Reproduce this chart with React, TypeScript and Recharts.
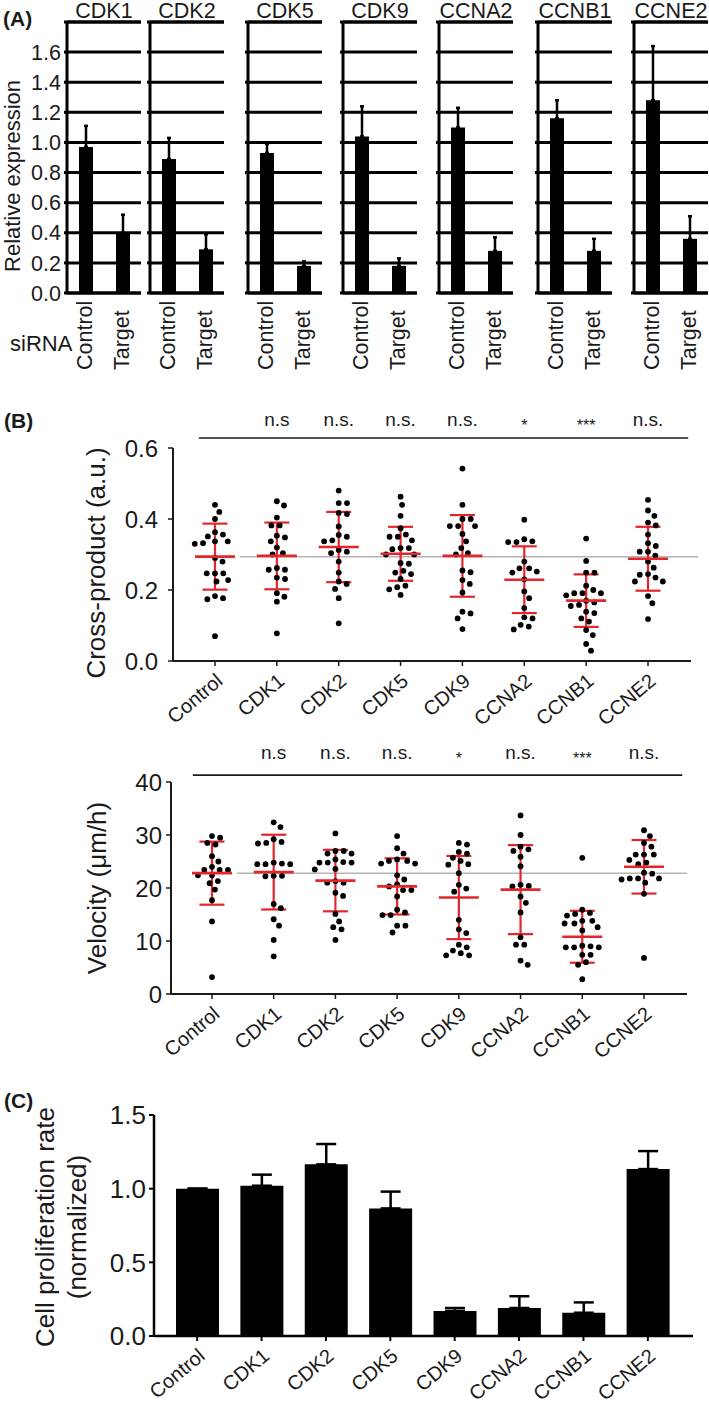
import React from 'react';
import {
  BarChart, Bar, XAxis, YAxis, CartesianGrid, ErrorBar, ComposedChart, Scatter,
  ReferenceLine, ReferenceDot,
} from 'recharts';

const FONT = '"Liberation Sans", Arial, Helvetica, sans-serif';
const RED = '#e3262b';
const INK = '#1a1a1a';

// ---------------- Panel A data ----------------
const genesA = ['CDK1', 'CDK2', 'CDK5', 'CDK9', 'CCNA2', 'CCNB1', 'CCNE2'];
const groupsA = ['Control', 'Target'];
const controlExpr = [0.97, 0.89, 0.93, 1.04, 1.10, 1.16, 1.28];
const controlErr = [0.14, 0.14, 0.06, 0.20, 0.13, 0.12, 0.36];
const targetExpr = [0.40, 0.29, 0.18, 0.18, 0.28, 0.28, 0.36];
const targetErr = [0.12, 0.10, 0.03, 0.05, 0.09, 0.08, 0.15];
const ticksA = [0, 0.2, 0.4, 0.6, 0.8, 1.0, 1.2, 1.4, 1.6, 1.8];

// ---------------- Panel B data ----------------
const categoriesB = ['Control', 'CDK1', 'CDK2', 'CDK5', 'CDK9', 'CCNA2', 'CCNB1', 'CCNE2'];
const sigCross = ['', 'n.s', 'n.s.', 'n.s.', 'n.s.', '*', '***', 'n.s.'];
const sigVelocity = ['', 'n.s', 'n.s.', 'n.s.', '*', 'n.s.', '***', 'n.s.'];

const crossControl = [0.44, 0.42, 0.40, 0.363, 0.356, 0.351, 0.337, 0.337, 0.332, 0.33, 0.29, 0.28, 0.247, 0.247, 0.247, 0.228, 0.224, 0.183, 0.177, 0.174, 0.07];
const crossCDK1 = [0.45, 0.438, 0.404, 0.382, 0.382, 0.353, 0.348, 0.337, 0.32, 0.304, 0.30, 0.262, 0.257, 0.257, 0.235, 0.231, 0.191, 0.181, 0.167, 0.078];
const crossCDK2 = [0.48, 0.445, 0.445, 0.417, 0.414, 0.379, 0.355, 0.35, 0.34, 0.337, 0.313, 0.308, 0.304, 0.28, 0.249, 0.224, 0.217, 0.203, 0.177, 0.106];
const crossCDK5 = [0.463, 0.44, 0.409, 0.374, 0.356, 0.35, 0.34, 0.35, 0.318, 0.318, 0.315, 0.30, 0.30, 0.276, 0.274, 0.249, 0.245, 0.254, 0.231, 0.208, 0.202, 0.212, 0.186];
const crossCDK9 = [0.542, 0.44, 0.40, 0.40, 0.38, 0.38, 0.38, 0.358, 0.337, 0.318, 0.304, 0.30, 0.25, 0.255, 0.228, 0.217, 0.193, 0.134, 0.139, 0.12, 0.09];
const crossCCNA2 = [0.398, 0.343, 0.337, 0.335, 0.335, 0.28, 0.261, 0.261, 0.252, 0.249, 0.23, 0.196, 0.177, 0.149, 0.123, 0.12, 0.102, 0.097, 0.089];
const crossCCNB1 = [0.345, 0.282, 0.249, 0.249, 0.212, 0.2, 0.191, 0.191, 0.191, 0.185, 0.17, 0.165, 0.158, 0.155, 0.139, 0.135, 0.12, 0.111, 0.087, 0.073, 0.048, 0.029];
const crossCCNE2 = [0.454, 0.424, 0.409, 0.39, 0.382, 0.356, 0.332, 0.324, 0.308, 0.308, 0.297, 0.28, 0.263, 0.245, 0.243, 0.235, 0.224, 0.224, 0.183, 0.163, 0.118];
const crossMean = [0.294, 0.296, 0.321, 0.302, 0.296, 0.229, 0.170, 0.288];
const crossSd = [0.093, 0.094, 0.099, 0.076, 0.115, 0.094, 0.074, 0.090];
const crossTicks = [0, 0.2, 0.4, 0.6];

const velControl = [29.8, 29.5, 28.5, 28.2, 26.0, 25.0, 24.0, 23.4, 23.4, 23.4, 22.4, 22.4, 21.3, 20.9, 19.7, 17.7, 13.7, 3.2];
const velCDK1 = [32.4, 31.5, 29.2, 28.5, 28.4, 28.7, 24.5, 24.5, 24.5, 24.8, 24.6, 22.3, 22.2, 22.3, 17.0, 16.2, 14.1, 12.9, 10.2, 7.1];
const velCDK2 = [30.3, 27.0, 27.0, 26.5, 26.5, 24.8, 24.8, 25.4, 24.9, 24.8, 23.5, 23.6, 21.0, 21.0, 21.3, 19.1, 18.5, 15.1, 12.6, 12.2, 13.7, 10.2];
const velCDK5 = [29.8, 27.5, 26.5, 25.4, 25.1, 24.6, 24.6, 25.1, 22.4, 21.6, 20.7, 20.3, 19.6, 19.6, 18.4, 15.4, 14.9, 14.9, 15.9, 12.9, 12.9, 11.6];
const velCDK9 = [28.2, 28.5, 26.8, 26.5, 25.1, 25.7, 24.5, 24.4, 22.8, 20.6, 19.9, 19.3, 14.0, 12.2, 11.5, 9.3, 8.8, 7.7, 7.3, 7.3, 8.2];
const velCCNA2 = [33.7, 30.0, 27.8, 27.3, 27.0, 25.9, 24.1, 20.4, 20.3, 20.6, 18.4, 17.2, 15.4, 10.7, 9.3, 9.3, 6.3, 5.5];
const velCCNB1 = [25.7, 15.9, 15.1, 14.8, 15.3, 13.8, 12.6, 13.3, 13.8, 13.3, 12.0, 8.8, 8.8, 9.0, 9.1, 8.8, 7.4, 7.4, 5.5, 6.0, 2.8];
const velCCNE2 = [30.9, 29.8, 28.5, 27.8, 26.3, 26.3, 26.3, 25.3, 24.5, 24.8, 22.9, 22.7, 21.8, 21.6, 21.0, 21.8, 21.8, 18.9, 6.8];
const velMean = [22.8, 23.0, 21.4, 20.3, 18.2, 19.7, 10.8, 24.0];
const velSd = [5.95, 7.05, 5.8, 5.3, 7.85, 8.4, 4.9, 5.05];
const velTicks = [0, 10, 20, 30, 40];

// ---------------- Panel C data ----------------
const prolif = [1.0, 1.02, 1.165, 0.866, 0.17, 0.19, 0.158, 1.133];
const prolifErr = [0, 0.075, 0.138, 0.114, 0.02, 0.08, 0.07, 0.122];
const prolifTicks = [0, 0.5, 1.0, 1.5];

// ---------------- helpers ----------------
function swarm(values: number[], center: number, pxPerUnit: number, pxPerCat: number, diam: number) {
  const placed: { y: number; x: number }[] = [];
  const order = values.map((_, i) => i).sort((a, b) => values[b] - values[a]);
  const out: { x: number; y: number }[] = new Array(values.length);
  for (const i of order) {
    const yp = values[i] * pxPerUnit;
    const cands = [0];
    for (const p of placed) {
      const dy = Math.abs(p.y - yp);
      if (dy < diam) {
        const dx = Math.sqrt(diam * diam - dy * dy);
        cands.push(p.x + dx, p.x - dx);
      }
    }
    cands.sort((a, b) => Math.abs(a) - Math.abs(b));
    let chosen = 0;
    for (const c of cands) {
      let ok = true;
      for (const p of placed) {
        const dy = p.y - yp;
        const dx = p.x - c;
        if (dx * dx + dy * dy < diam * diam - 1e-6) { ok = false; break; }
      }
      if (ok) { chosen = c; break; }
    }
    placed.push({ y: yp, x: chosen });
    out[i] = { x: center + chosen / pxPerCat, y: values[i] };
  }
  return out;
}

const ATick = (props: any) => {
  const { x, payload } = props;
  const bx = x + 6;
  const by = 370;
  return (
    <text x={bx} y={by} transform={`rotate(-90, ${bx}, ${by})`} textAnchor="start"
      fontSize={21.5} fill={INK} fontFamily={FONT}>{payload.value}</text>
  );
};

const EmptyTick = () => <g />;

const makeRotTick = (names: string[] | null, fontSize: number) => (props: any) => {
  const { x, y, payload } = props;
  const label = names ? names[Math.round(payload.value)] : payload.value;
  const ax = x + 9;
  const ay = y + 17;
  return (
    <text x={ax} y={ay} transform={`rotate(-40, ${ax}, ${ay})`} textAnchor="end"
      fontSize={fontSize} fill={INK} fontFamily={FONT}>{label}</text>
  );
};

const Dot = (props: any) => <circle cx={props.cx} cy={props.cy} r={2.9} fill="#000" />;
const MeanLine = (props: any) => (
  <line x1={props.cx - 20} x2={props.cx + 20} y1={props.cy} y2={props.cy} stroke={RED} strokeWidth={2.6} />
);

// ---------------- Panel A ----------------
const A_AXIS_X = [67, 150, 248, 343, 439, 538, 634];
const A_PANEL_W = 74;

function PanelA() {
  return (
    <>
      {genesA.map((g, i) => {
        const yw = i === 0 ? 62 : 8;
        const left = A_AXIS_X[i] - yw;
        const width = yw + A_PANEL_W + 2;
        const data = groupsA.map((name, j) => ({
          name,
          value: j === 0 ? controlExpr[i] : targetExpr[i],
          err: [0, j === 0 ? controlErr[i] : targetErr[i]],
        }));
        return (
          <div key={g} style={{ position: 'absolute', left, top: 0 }}>
            <BarChart width={width} height={380} data={data}
              margin={{ top: 22, right: 2, bottom: 0, left: 0 }}>
              <CartesianGrid vertical={false} stroke="#000" strokeWidth={3} />
              <XAxis dataKey="name" height={87} axisLine={false} tickLine={false}
                tick={<ATick />} interval={0} />
              <YAxis width={yw} type="number" domain={[0, 1.8]} ticks={ticksA} allowDataOverflow
                axisLine={{ stroke: '#000', strokeWidth: 3 }}
                tickLine={{ stroke: '#000', strokeWidth: 3 }} tickSize={3} tickMargin={3}
                tick={i === 0 ? { fontSize: 21.5, fill: INK, fontFamily: FONT } : <EmptyTick />}
                tickFormatter={(v: number) => (v > 1.7 ? '' : v.toFixed(1))} />
              <ReferenceLine y={1.8} stroke="#000" strokeWidth={3} ifOverflow="visible" />
              <ReferenceLine y={0} stroke="#000" strokeWidth={3} ifOverflow="visible" />
              <Bar dataKey="value" fill="#000" barSize={14} isAnimationActive={false}>
                <ErrorBar dataKey="err" width={2} stroke="#000" strokeWidth={2.5} direction="y" />
              </Bar>
            </BarChart>
          </div>
        );
      })}
    </>
  );
}

// ---------------- Panel B swarm chart ----------------
type SwarmProps = {
  left: number; top: number; width: number; height: number;
  mTop: number; mRight: number; yWidth: number; xHeight: number;
  xDomain: [number, number]; yDomain: [number, number]; yTicks: number[];
  yFmt: (v: number) => string; groups: number[][]; means: number[]; sds: number[];
  sig: string[]; sigLineY: number; sigLabelY: number; sigX: [number, number];
  greyX: [number, number]; tickFont: number; labelFont: number; tickMargin: number;
};

function SwarmChart(p: SwarmProps) {
  const plotW = p.width - p.mRight - p.yWidth;
  const plotH = p.height - p.mTop - p.xHeight;
  const pxPerCat = plotW / (p.xDomain[1] - p.xDomain[0]);
  const pxPerUnit = plotH / (p.yDomain[1] - p.yDomain[0]);
  const meanData = p.means.map((m, i) => ({ x: i, y: m, sd: p.sds[i] }));
  const RotTick = makeRotTick(categoriesB, 20);
  return (
    <div style={{ position: 'absolute', left: p.left, top: p.top }}>
      <ComposedChart width={p.width} height={p.height}
        margin={{ top: p.mTop, right: p.mRight, bottom: 0, left: 0 }}>
        <XAxis type="number" dataKey="x" domain={p.xDomain} allowDataOverflow
          ticks={categoriesB.map((_, i) => i)} interval={0} height={p.xHeight}
          tick={<RotTick />} tickSize={5} tickMargin={0}
          axisLine={{ stroke: INK, strokeWidth: 2 }} tickLine={{ stroke: INK, strokeWidth: 1.5 }} />
        <YAxis type="number" dataKey="y" domain={p.yDomain} ticks={p.yTicks} allowDataOverflow
          width={p.yWidth} tickFormatter={p.yFmt} tickSize={5} tickMargin={p.tickMargin}
          tick={{ fontSize: p.labelFont, fill: INK, fontFamily: FONT }}
          axisLine={{ stroke: INK, strokeWidth: 2 }} tickLine={{ stroke: INK, strokeWidth: 1.5 }} />
        <ReferenceLine segment={[{ x: p.greyX[0], y: p.means[0] }, { x: p.greyX[1], y: p.means[0] }]}
          stroke="#b4b4b4" strokeWidth={1.5} ifOverflow="visible" />
        <ReferenceLine segment={[{ x: p.sigX[0], y: p.sigLineY }, { x: p.sigX[1], y: p.sigLineY }]}
          stroke={INK} strokeWidth={1.6} ifOverflow="visible" />
        {p.sig.map((s, i) => s ? (
          <ReferenceDot key={'sig' + i} x={i} y={p.sigLabelY} r={0} ifOverflow="visible"
            shape={(sp: any) => (
              <text x={sp.cx} y={s.includes('*') ? sp.cy + 6 : sp.cy} textAnchor="middle"
                dominantBaseline="central" fontSize={s.includes('*') ? 16 : p.tickFont}
                fill={INK} fontFamily={FONT}>{s}</text>
            )} />
        ) : null)}
        {p.groups.map((vals, i) => (
          <Scatter key={'g' + i} data={swarm(vals, i, pxPerUnit, pxPerCat, 8.3)} dataKey="y"
            shape={<Dot />} isAnimationActive={false} />
        ))}
        <Scatter data={meanData} dataKey="y" shape={<MeanLine />} isAnimationActive={false}>
          <ErrorBar dataKey="sd" direction="y" width={12.5} stroke={RED} strokeWidth={2.2} />
        </Scatter>
      </ComposedChart>
    </div>
  );
}

// ---------------- Panel C ----------------
function PanelC() {
  const data = categoriesB.map((name, i) => ({ name, value: prolif[i], err: [0, prolifErr[i]] }));
  const RotTick = makeRotTick(null, 20);
  return (
    <div style={{ position: 'absolute', left: 60, top: 1080 }}>
      <BarChart width={641} height={324} data={data} margin={{ top: 35, right: 8, bottom: 0, left: 0 }}>
        <XAxis dataKey="name" padding={{ left: 11, right: 13 }} height={68} interval={0}
          tick={<RotTick />} tickSize={5} tickMargin={0}
          axisLine={{ stroke: '#000', strokeWidth: 2.5 }} tickLine={{ stroke: '#000', strokeWidth: 2 }} />
        <YAxis width={94} type="number" domain={[0, 1.5]} ticks={prolifTicks} allowDataOverflow
          tickFormatter={(v: number) => v.toFixed(1)} tickSize={5} tickMargin={3}
          tick={{ fontSize: 26, fill: INK, fontFamily: FONT }}
          axisLine={{ stroke: '#000', strokeWidth: 2.5 }} tickLine={{ stroke: '#000', strokeWidth: 2 }} />
        <Bar dataKey="value" fill="#000" barSize={43} isAnimationActive={false}>
          <ErrorBar dataKey="err" width={10} stroke="#000" strokeWidth={2.5} direction="y" />
        </Bar>
      </BarChart>
    </div>
  );
}

// ---------------- Free text ----------------
function Labels() {
  const titleX = A_AXIS_X.map((x) => x + A_PANEL_W / 2);
  return (
    <svg width={709} height={1404} style={{ position: 'absolute', left: 0, top: 0, pointerEvents: 'none' }}
      fontFamily={FONT} fill={INK}>
      <text x={3} y={26} fontSize={21} fontWeight="bold">(A)</text>
      {genesA.map((g, i) => (
        <text key={g} x={titleX[i]} y={18} fontSize={21.5} textAnchor="middle">{g}</text>
      ))}
      <text x={20} y={176} fontSize={22} textAnchor="middle" transform="rotate(-90, 20, 176)">Relative expression</text>
      <text x={10} y={351} fontSize={22}>siRNA</text>

      <text x={4} y={428} fontSize={21} fontWeight="bold">(B)</text>
      <text x={105} y={563} fontSize={26} textAnchor="middle" transform="rotate(-90, 105, 563)">Cross-product (a.u.)</text>
      <text x={106} y={888} fontSize={26} textAnchor="middle" transform="rotate(-90, 106, 888)">Velocity (μm/h)</text>

      <text x={4} y={1108} fontSize={21} fontWeight="bold">(C)</text>
      <text x={54} y={1227} fontSize={26} textAnchor="middle" transform="rotate(-90, 54, 1227)">Cell proliferation rate</text>
      <text x={86} y={1227} fontSize={26} textAnchor="middle" transform="rotate(-90, 86, 1227)">(normalized)</text>
    </svg>
  );
}

export default function App() {
  return (
    <div style={{ position: 'absolute', left: 0, top: 0, width: 709, height: 1404, background: '#fff', fontFamily: FONT, overflow: 'hidden' }}>
      <PanelA />
      <SwarmChart left={80} top={400} width={621} height={331} mTop={48} mRight={10} yWidth={93} xHeight={70}
        xDomain={[-0.679, 7.695]} yDomain={[0, 0.6]} yTicks={crossTicks} yFmt={(v) => v.toFixed(1)}
        groups={[crossControl, crossCDK1, crossCDK2, crossCDK5, crossCDK9, crossCCNA2, crossCCNB1, crossCCNE2]}
        means={crossMean} sds={crossSd} sig={sigCross} sigLineY={0.628} sigLabelY={0.679}
        sigX={[-0.26, 7.65]} greyX={[0.4, 7.81]} tickFont={19} labelFont={24} tickMargin={10} />
      <SwarmChart left={80} top={730} width={617} height={334} mTop={52} mRight={10} yWidth={91} xHeight={70}
        xDomain={[-0.664, 7.697]} yDomain={[0, 40]} yTicks={velTicks} yFmt={(v) => String(v)}
        groups={[velControl, velCDK1, velCDK2, velCDK5, velCDK9, velCCNA2, velCCNB1, velCCNE2]}
        means={velMean} sds={velSd} sig={sigVelocity} sigLineY={41.3} sigLabelY={45.5}
        sigX={[-0.31, 7.62]} greyX={[0.405, 7.70]} tickFont={19} labelFont={24} tickMargin={4} />
      <PanelC />
      <Labels />
    </div>
  );
}
